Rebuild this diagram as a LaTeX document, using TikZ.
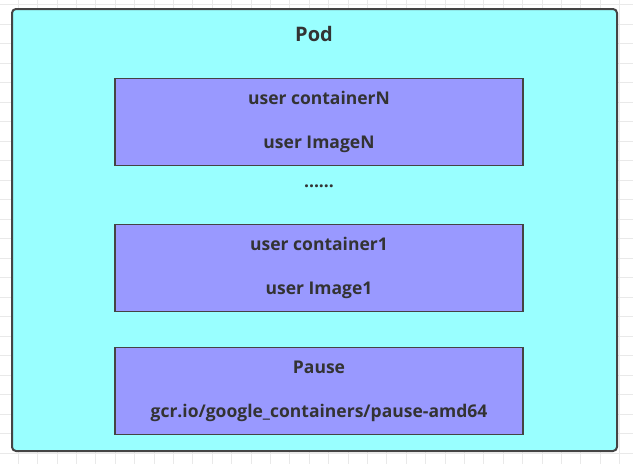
\documentclass[tikz,border=0pt]{standalone}
\usepackage{fontspec}
\setmainfont{Open Sans}
\usetikzlibrary{positioning}
\definecolor{cian}{HTML}{99FFFF}
\definecolor{lila}{HTML}{9999FF}
\definecolor{borde}{HTML}{444444}
\definecolor{texto}{HTML}{333333}
\definecolor{rejilla}{HTML}{E9E9E9}
\tikzset{
  pod/.style={draw=borde,fill=cian,line width=2pt,rounded corners=4pt,minimum width=605pt,minimum height=442pt,inner sep=0pt},
  contenedor/.style={draw=borde,fill=lila,line width=1.6pt,minimum width=408pt,minimum height=87pt,inner sep=0pt,align=center,text=texto,font=\bfseries\fontsize{17.5}{21}\selectfont},
  titulo/.style={text=texto,inner sep=0pt,font=\bfseries\fontsize{17.5}{21}\selectfont},
}

\begin{document}
\begin{tikzpicture}[x=1pt,y=-1pt]
  \useasboundingbox (0,0) rectangle (633,464);
  \fill[white] (0,0) rectangle (633,464);
  % rejilla de fondo
  \foreach \gx in {18,37.4,...,633} \draw[rejilla] (\gx,0) -- (\gx,464);
  \foreach \gy in {4.5,24,...,464} \draw[rejilla] (0,\gy) -- (633,\gy);
  \node[pod] (pod) at (314.5,230) {};
  \node[titulo,font=\bfseries\fontsize{20}{24}\selectfont] (podtit) at (314,34) {Pod};
  \node[contenedor] (contn) at (319,122) {user containerN\\[23pt]user ImageN};
  \node[titulo] (puntos) at (319,186) {......};
  \node[contenedor] (cont1) at (319,268) {user container1\\[23pt]user Image1};
  \node[contenedor] (pause) at (319,391) {Pause\\[23pt]gcr.io/google\_containers/pause-amd64};
\end{tikzpicture}
\end{document}
